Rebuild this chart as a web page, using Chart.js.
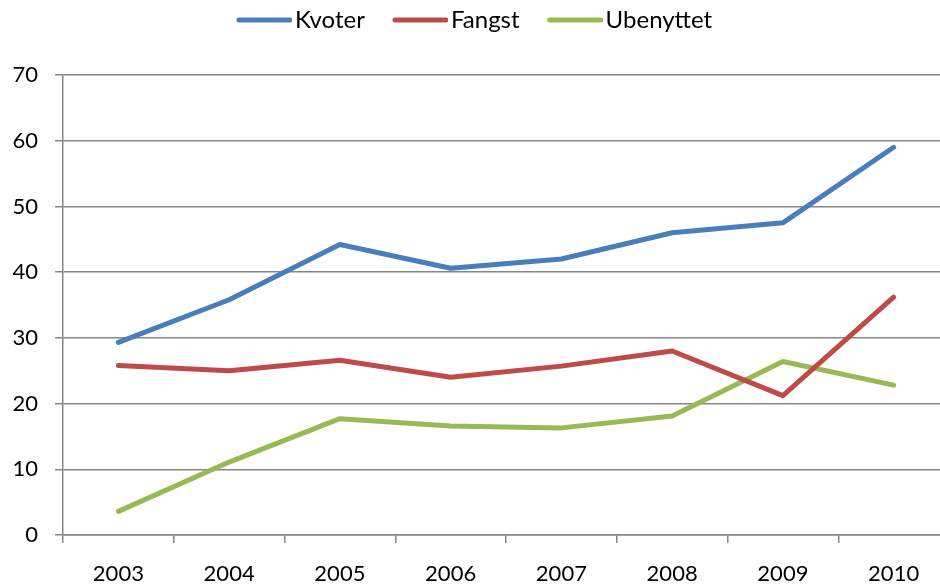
<!DOCTYPE html>
<html>
<head>
<meta charset="utf-8">
<script src="https://cdn.jsdelivr.net/npm/chart.js@4/dist/chart.umd.min.js"></script>
<style>
    html, body { margin: 0; padding: 0; background: #fff; overflow: hidden; }
    #wrap { width: 950px; height: 587px; }
</style>
</head>
<body>
<div id="wrap"><canvas id="kvoteChart" width="950" height="587"></canvas></div>
<script>
const aar = ["2003", "2004", "2005", "2006", "2007", "2008", "2009", "2010"];
const kvoter = [29.3, 35.8, 44.2, 40.6, 42.0, 46.0, 47.5, 59.0];
const fangst = [25.8, 25.0, 26.6, 24.0, 25.7, 28.0, 21.2, 36.2];
const ubenyttet = [3.6, 11.1, 17.7, 16.6, 16.3, 18.1, 26.4, 22.8];
const yMin = 0;
const yMax = 70;
const yStep = 10;

const gra = "#868686";

// liten strek til legenden, forskjøvet mot venstre slik at teksten kommer tett inntil
function legendeStrek(farge) {
    const c = document.createElement("canvas");
    c.width = 64;
    c.height = 8;
    const ctx = c.getContext("2d");
    ctx.strokeStyle = farge;
    ctx.lineWidth = 5;
    ctx.lineCap = "round";
    ctx.beginPath();
    ctx.moveTo(11, 4);
    ctx.lineTo(62, 4);
    ctx.stroke();
    return c;
}

function serie(navn, verdier, farge) {
    return {
        label: navn,
        data: verdier,
        borderColor: farge,
        backgroundColor: farge,
        borderWidth: 5,
        borderCapStyle: "round",
        borderJoinStyle: "round",
        pointStyle: legendeStrek(farge),
        pointRadius: 0,
        pointHoverRadius: 0,
        tension: 0,
        fill: false
    };
}

// legend skal ta fast plass over plottet
const fastLegende = {
    id: "fastLegende",
    beforeLayout(chart) {
        const legend = chart.legend;
        if (!legend || legend._fastHoyde) return;
        const fit = legend.fit;
        legend.fit = function () {
            fit.call(this);
            this.height = 95;
        };
        legend._fastHoyde = true;
    }
};

new Chart(document.getElementById("kvoteChart"), {
    type: "line",
    data: {
        labels: aar,
        datasets: [
            serie("Kvoter", kvoter, "#4A7EBB"),
            serie("Fangst", fangst, "#BE4B48"),
            serie("Ubenyttet", ubenyttet, "#98B954")
        ]
    },
    options: {
        responsive: false,
        animation: false,
        devicePixelRatio: 1,
        layout: { padding: { left: 0, right: 1, top: -20, bottom: 0 } },
        plugins: {
            tooltip: { enabled: false },
            legend: {
                position: "top",
                labels: {
                    usePointStyle: true,
                    pointStyleWidth: 46,
                    padding: 28,
                    color: "#000",
                    font: { family: "Lato", size: 24 }
                }
            }
        },
        scales: {
            x: {
                offset: true,
                grid: {
                    display: true,
                    offset: true,
                    drawOnChartArea: false,
                    drawTicks: true,
                    tickLength: 8,
                    color: gra,
                    lineWidth: 1.5
                },
                border: { display: true, color: gra, width: 1.5 },
                ticks: {
                    color: "#000",
                    padding: 18,
                    maxRotation: 0,
                    font: { family: "Lato", size: 22 }
                },
                afterFit(scale) { scale.height = 52; }
            },
            y: {
                min: yMin,
                max: yMax,
                grid: {
                    color: gra,
                    lineWidth: 1.5,
                    drawTicks: true,
                    tickLength: 8
                },
                border: { display: true, color: gra, width: 1.5 },
                ticks: {
                    stepSize: yStep,
                    color: "#000",
                    padding: 17,
                    font: { family: "Lato", size: 22 }
                },
                afterFit(scale) { scale.width = 63; }
            }
        }
    },
    plugins: [fastLegende]
});
</script>
</body>
</html>
